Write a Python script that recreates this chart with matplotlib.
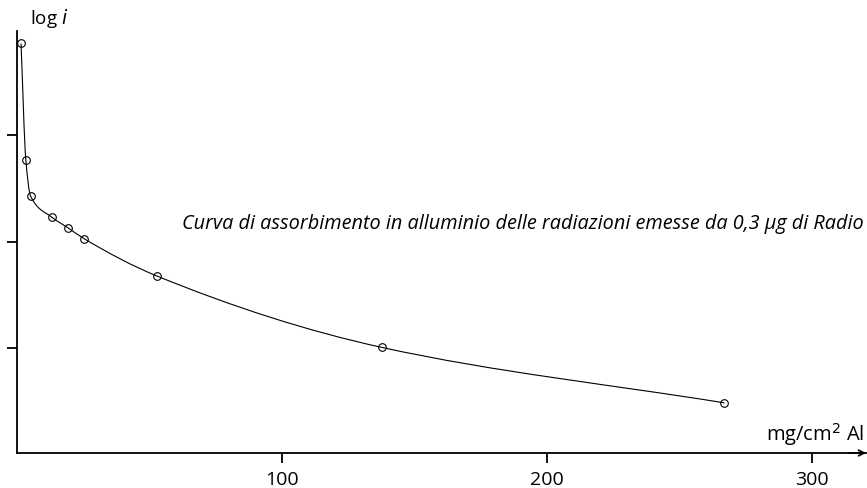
import numpy as np
import matplotlib.pyplot as plt
from matplotlib.path import Path
from matplotlib.patches import PathPatch

plt.rcParams['font.family'] = ['Open Sans', 'DejaVu Sans']

# thickness of aluminium (mg/cm2) and log of intensity
thickness = [1.4, 3.2, 5.0, 13.1, 19.2, 25.2, 52.7, 137.7, 267.1]
log_i = [3.86, 2.77, 2.43, 2.23, 2.13, 2.03, 1.68, 1.01, 0.49]
xticks = [100, 200, 300]
yticks = [1, 2, 3]

fig = plt.figure(figsize=(8.67, 4.89), dpi=100)
ax = fig.add_axes([0.02, 0.0716, 0.979, 0.8636])

# smooth curve: monotone cubic through the points, drawn as bezier segments
x = np.array(thickness)
y = np.array(log_i)
h = np.diff(x)
d = np.diff(y) / h
m = np.zeros_like(x)
m[0], m[-1] = d[0], d[-1]
for k in range(1, len(x) - 1):
    if d[k - 1] * d[k] > 0:
        w1 = 2 * h[k] + h[k - 1]
        w2 = h[k] + 2 * h[k - 1]
        m[k] = (w1 + w2) / (w1 / d[k - 1] + w2 / d[k])
verts = [(x[0], y[0])]
codes = [Path.MOVETO]
for k in range(len(x) - 1):
    verts += [(x[k] + h[k] / 3, y[k] + m[k] * h[k] / 3),
              (x[k + 1] - h[k] / 3, y[k + 1] - m[k + 1] * h[k] / 3),
              (x[k + 1], y[k + 1])]
    codes += [Path.CURVE4] * 3
ax.add_patch(PathPatch(Path(verts, codes), fill=False, lw=0.8, color='black'))

ax.plot(thickness, log_i, 'o', ms=5.5, mfc='none', mec='black', mew=0.8)

ax.set_xlim(0, 320.6)
ax.set_ylim(0.02, 3.98)

for s in ['top', 'right']:
    ax.spines[s].set_visible(False)
for s in ['left', 'bottom']:
    ax.spines[s].set_linewidth(1.3)

ax.set_xticks(xticks)
ax.set_xticklabels([str(t) for t in xticks], fontsize=14)
ax.set_yticks(yticks)
ax.set_yticklabels([])
ax.tick_params(axis='both', direction='out', length=7, width=1.3, pad=5)

ax.annotate('', xy=(1.0, 0), xytext=(0.98, 0), xycoords='axes fraction',
            arrowprops=dict(arrowstyle='->', lw=1.3, color='black',
                            shrinkA=0, shrinkB=0))

fig.text(30 / 867, 1 - 18 / 489, 'log $\\it{i}$', fontsize=13.5, va='center', ha='left')
fig.text(864 / 867, 1 - 435 / 489, 'mg/cm$^2$ Al', fontsize=14.5, va='center', ha='right')
fig.text(864 / 867, 1 - 224 / 489,
         'Curva di assorbimento in alluminio delle radiazioni emesse da 0,3 µg di Radio',
         fontsize=14.3, style='italic', va='center', ha='right')

fig.savefig('out.png', dpi=100)
